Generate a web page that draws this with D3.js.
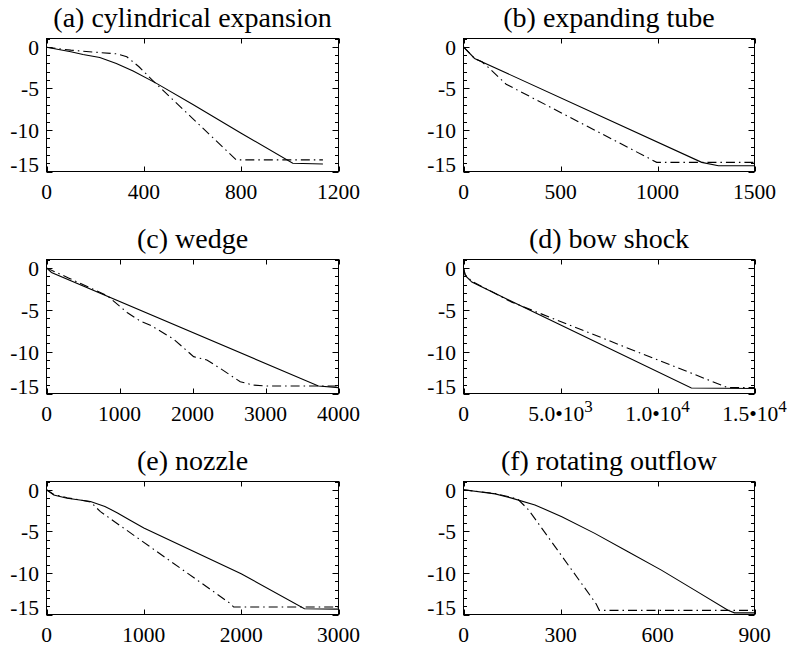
<!DOCTYPE html>
<html><head><meta charset="utf-8">
<script src="https://cdn.jsdelivr.net/npm/d3@7"></script>
<style>html,body{margin:0;padding:0;background:#fff;} svg{display:block;} text{font-family:"Liberation Serif","Times New Roman","DejaVu Serif",serif;}</style>
</head><body><svg id="c" width="791" height="648"></svg>
<script>
// ---------------- data ----------------
const titles = ["(a) cylindrical expansion", "(b) expanding tube", "(c) wedge", "(d) bow shock", "(e) nozzle", "(f) rotating outflow"];
const xMaxes = [1200, 1500, 4000, 15000, 3000, 900];
const xTicksA = [0, 400, 800, 1200];
const xTicksB = [0, 500, 1000, 1500];
const xTicksC = [0, 1000, 2000, 3000, 4000];
const xTicksD = [0, 5000, 10000, 15000];
const xTicksE = [0, 1000, 2000, 3000];
const xTicksF = [0, 300, 600, 900];
const yDomain = [-15, 1];
const yTicks = [0, -5, -10, -15];
const yMinorTicks = [1, -1, -2, -3, -4, -6, -7, -8, -9, -11, -12, -13, -14];

// (a) cylindrical expansion
const aSolidX = [0, 100, 150, 219, 287, 356, 452, 600, 800, 1012, 1136];
const aSolidY = [-0.05, -0.6, -0.92, -1.28, -2.0, -2.92, -4.4, -6.9, -10.4, -14.0, -14.1];
const aDashX  = [0, 100, 200, 290, 330, 380, 452, 600, 780, 1136];
const aDashY  = [-0.05, -0.4, -0.65, -0.85, -1.2, -2.4, -4.5, -8.6, -13.6, -13.6];
// (b) expanding tube
const bSolidX = [0, 57, 1228, 1314, 1500];
const bSolidY = [0, -1.4, -13.9, -14.3, -14.3];
const bDashX  = [0, 57, 95, 134, 220, 996, 1500];
const bDashY  = [0, -1.4, -1.8, -2.6, -4.5, -13.9, -13.9];
// (c) wedge
const cSolidX = [0, 68, 3725, 4000];
const cSolidY = [0, -0.55, -14.1, -14.3];
const cDashX  = [0, 300, 600, 830, 1104, 1286, 1423, 1742, 2015, 2197, 2380, 2654, 2836, 3019, 4000];
const cDashY  = [0, -1.2, -2.4, -3.3, -5.33, -6.36, -6.84, -8.51, -10.6, -11.0, -12.0, -13.6, -14.0, -14.1, -14.1];
// (d) bow shock
const dSolidX = [0, 87, 431, 11745, 15000];
const dSolidY = [0, -0.9, -1.7, -14.35, -14.4];
const dDashX  = [0, 87, 431, 2490, 13625, 15000];
const dDashY  = [0, -0.8, -1.6, -4.1, -14.3, -14.3];
// (e) nozzle
const eSolidX = [0, 75, 212, 452, 600, 725, 850, 1000, 2000, 2650, 3000];
const eSolidY = [0, -0.62, -1.02, -1.4, -2.0, -2.75, -3.6, -4.6, -10.1, -14.3, -14.35];
const eDashX  = [0, 75, 212, 452, 554, 1889, 1923, 3000];
const eDashY  = [0, -0.55, -0.95, -1.45, -2.63, -13.68, -14.1, -14.1];
// (f) rotating outflow
const fSolidX = [0, 98, 149, 221, 304, 406, 509, 612, 715, 818, 838, 900];
const fSolidY = [0, -0.49, -1.0, -1.82, -3.23, -5.24, -7.45, -9.66, -12.07, -14.49, -14.8, -14.8];
const fDashX  = [0, 98, 149, 170, 201, 410, 420, 900];
const fDashY  = [0, -0.45, -0.9, -1.2, -2.4, -13.7, -14.5, -14.5];

// ---------------- layout ----------------
const cols = [[46.5, 338.5], [463.5, 754.5]];
const rows = [[38.5, 171.5], [259.5, 393.5], [481.5, 614.5]];
const xTickSets = [xTicksA, xTicksB, xTicksC, xTicksD, xTicksE, xTicksF];
const series = [
  [[aSolidX, aSolidY], [aDashX, aDashY]],
  [[bSolidX, bSolidY], [bDashX, bDashY]],
  [[cSolidX, cSolidY], [cDashX, cDashY]],
  [[dSolidX, dSolidY], [dDashX, dDashY]],
  [[eSolidX, eSolidY], [eDashX, eDashY]],
  [[fSolidX, fSolidY], [fDashX, fDashY]]
];

const svg = d3.select("#c");
svg.append("rect").attr("width", 791).attr("height", 648).attr("fill", "#fff");

titles.forEach((title, i) => {
  const [x0, x1] = cols[i % 2];
  const [y0, y1] = rows[Math.floor(i / 2)];
  const x = d3.scaleLinear().domain([0, xMaxes[i]]).range([x0, x1]);
  const y = d3.scaleLinear().domain(yDomain).range([y1, y0]);
  const g = svg.append("g");

  // title
  g.append("text").attr("x", (x0 + x1) / 2).attr("y", y0 - 11.5)
    .attr("text-anchor", "middle").attr("font-size", 28)
    .attr("fill", "#000").text(title);

  // lines
  const line = d3.line().x(d => x(d[0])).y(d => y(d[1]));
  series[i].forEach((s, k) => {
    const pts = s[0].map((v, j) => [v, s[1][j]]);
    g.append("path").attr("d", line(pts)).attr("fill", "none").attr("stroke", "#000")
      .attr("stroke-width", 1.1)
      .attr("stroke-dasharray", k === 1 ? "9,4,1.5,4" : null);
  });

  // frame
  g.append("rect").attr("x", x0).attr("y", y0).attr("width", x1 - x0).attr("height", y1 - y0)
    .attr("fill", "none").attr("stroke", "#000").attr("stroke-width", 1);

  // x ticks (bottom and top)
  xTickSets[i].forEach(t => {
    const px = Math.round(x(t)) + 0.5;
    g.append("line").attr("x1", px).attr("x2", px).attr("y1", y1).attr("y2", y1 - 5).attr("stroke", "#000");
    g.append("line").attr("x1", px).attr("x2", px).attr("y1", y0).attr("y2", y0 + 5).attr("stroke", "#000");
    const tx = g.append("text").attr("x", x(t)).attr("y", y1 + 27.5).attr("text-anchor", "middle")
      .attr("font-size", 21.5).attr("fill", "#000");
    if (xMaxes[i] >= 10000 && t !== 0) {
      const e = Math.floor(Math.log10(t));
      tx.append("tspan").text((t / Math.pow(10, e)).toFixed(1) + "\u202210");
      tx.append("tspan").attr("dy", -9).attr("font-size", 17).text(String(e));
    } else {
      tx.text(String(t));
    }
  });

  // y ticks (left and right)
  yTicks.forEach(t => {
    const py = Math.round(y(t)) + 0.5;
    g.append("line").attr("x1", x0).attr("x2", x0 + 6).attr("y1", py).attr("y2", py).attr("stroke", "#000");
    g.append("line").attr("x1", x1).attr("x2", x1 - 6).attr("y1", py).attr("y2", py).attr("stroke", "#000");
    g.append("text").attr("x", x0 - 7.5).attr("y", Math.min(y(t) + 8, y1))
      .attr("text-anchor", "end").attr("font-size", 21.5)
      .attr("fill", "#000").text(String(t));
  });
  yMinorTicks.forEach(t => {
    const py = Math.round(y(t)) + 0.5;
    g.append("line").attr("x1", x0).attr("x2", x0 + 3.5).attr("y1", py).attr("y2", py).attr("stroke", "#000");
    g.append("line").attr("x1", x1).attr("x2", x1 - 3.5).attr("y1", py).attr("y2", py).attr("stroke", "#000");
  });
});
</script></body></html>
